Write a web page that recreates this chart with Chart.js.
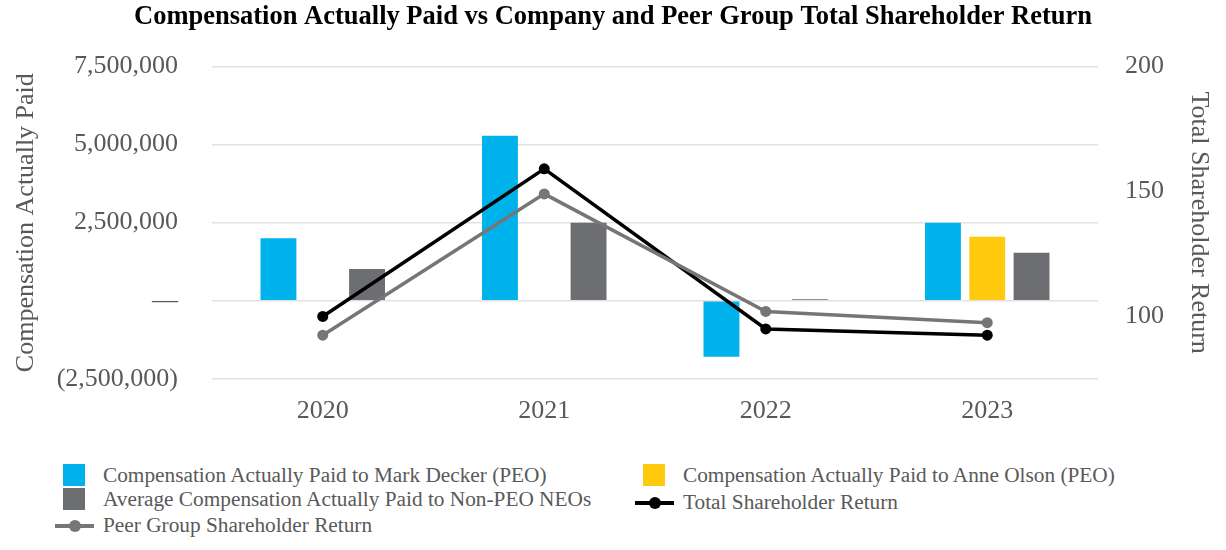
<!DOCTYPE html>
<html>
<head>
<meta charset="utf-8">
<script src="https://cdn.jsdelivr.net/npm/chart.js@4.4.1/dist/chart.umd.min.js"></script>
<style>
  html, body { margin: 0; padding: 0; background: #ffffff; }
  #wrap { position: relative; width: 1226px; height: 550px; overflow: hidden; }
  #chartBox { position: absolute; left: 0; top: 0; width: 1226px; height: 440px; }
  .lg { position: absolute; font-family: "Liberation Serif", "Times New Roman", serif; font-size: 21.3px; color: #595959; white-space: nowrap; line-height: 24px; height: 24px; }
  .sw { position: absolute; }
</style>
</head>
<body>
<div id="wrap">
  <div id="chartBox"><canvas id="c" width="1226" height="440"></canvas></div>
  <div id="legend"></div>
</div>
<script>
const categories = ["2020", "2021", "2022", "2023"];
const capMarkDecker = [2000000, 5280000, -1790000, 2500000];
const capAnneOlson = [null, null, null, 2050000];
const capNonPeoAvg = [1020000, 2500000, 50000, 1540000];
const totalShareholderReturn = [100, 159, 95, 92.5];
const peerGroupReturn = [92.5, 149, 102, 97.5];
const leftTicks = [-2500000, 0, 2500000, 5000000, 7500000];
const rightTicks = [100, 150, 200];

const TEXT = "#595959";
const SERIF = "'Liberation Serif', 'Times New Roman', serif";

function fmtNum(v) {
  return Math.round(v).toString().replace(/\B(?=(\d{3})+(?!\d))/g, ",");
}

const datasets = [
  { type: "bar", label: "Compensation Actually Paid to Mark Decker (PEO)", data: capMarkDecker,
    backgroundColor: "#00B2EC", yAxisID: "y", order: 2 },
  { type: "bar", label: "Compensation Actually Paid to Anne Olson (PEO)", data: capAnneOlson,
    backgroundColor: "#FFC90E", yAxisID: "y", order: 2 },
  { type: "bar", label: "Average Compensation Actually Paid to Non-PEO NEOs", data: capNonPeoAvg,
    backgroundColor: "#6D6E71", yAxisID: "y", order: 2 },
  { type: "line", label: "Total Shareholder Return", data: totalShareholderReturn,
    borderColor: "#000000", backgroundColor: "#000000", borderWidth: 3.5,
    pointRadius: 5.5, pointHoverRadius: 5.5, pointBackgroundColor: "#000000", pointBorderWidth: 0,
    yAxisID: "y1", order: 1, tension: 0 },
  { type: "line", label: "Peer Group Shareholder Return", data: peerGroupReturn,
    borderColor: "#767676", backgroundColor: "#767676", borderWidth: 3.5,
    pointRadius: 5.5, pointHoverRadius: 5.5, pointBackgroundColor: "#767676", pointBorderWidth: 0,
    yAxisID: "y1", order: 0, tension: 0 }
];

const chart = new Chart(document.getElementById("c"), {
  data: { labels: categories, datasets: datasets },
  options: {
    responsive: false,
    animation: false,
    devicePixelRatio: 1,
    layout: { padding: 0 },
    datasets: { bar: { categoryPercentage: 0.6, barPercentage: 0.81 } },
    plugins: {
      legend: { display: false },
      tooltip: { enabled: false },
      title: {
        display: true,
        text: "Compensation Actually Paid vs Company and Peer Group Total Shareholder Return",
        color: "#000000",
        font: { family: SERIF, size: 26.5, weight: "bold" },
        padding: { top: 1, bottom: 33.5 }
      }
    },
    scales: {
      x: {
        grid: { display: false, drawTicks: false },
        border: { display: false },
        ticks: { color: TEXT, font: { family: SERIF, size: 26 }, padding: 17 },
        afterFit: (s) => { s.height = 61; }
      },
      y: {
        position: "left",
        min: -2500000, max: 7500000,
        afterBuildTicks: (s) => { s.ticks = leftTicks.map(v => ({ value: v })); },
        grid: { color: "#E2E2E2", lineWidth: 1.5, drawTicks: false },
        border: { display: false },
        ticks: {
          color: TEXT, font: { family: SERIF, size: 26 }, padding: 34,
          callback: (v) => v === 0 ? "\u2014" : (v < 0 ? "(" + fmtNum(-v) + ")" : fmtNum(v))
        },
        title: { display: true, text: "Compensation Actually Paid", color: TEXT,
          font: { family: SERIF, size: 26 }, padding: { top: 11, bottom: 0 } },
        afterFit: (s) => { s.width = 212; }
      },
      y1: {
        position: "right",
        min: 75, max: 200,
        afterBuildTicks: (s) => { s.ticks = rightTicks.map(v => ({ value: v })); },
        grid: { display: false, drawTicks: false },
        border: { display: false },
        ticks: { color: TEXT, font: { family: SERIF, size: 26 }, padding: 27 },
        title: { display: true, text: "Total Shareholder Return", color: TEXT,
          font: { family: SERIF, size: 26 }, padding: { top: 12, bottom: 0 } },
        afterFit: (s) => { s.width = 128; }
      }
    }
  }
});

// HTML legend built from the chart's datasets, laid out in two columns
const legendSlots = [
  { left: 63, top: 464 },   // Mark Decker
  { left: 643, top: 464 },  // Anne Olson
  { left: 63, top: 487.5 }, // Non-PEO
  { left: 635, top: 491 },  // TSR
  { left: 55, top: 513.5 }  // Peer
];
const legendEl = document.getElementById("legend");
chart.data.datasets.forEach((ds, i) => {
  const slot = legendSlots[i];
  if (ds.type === "bar") {
    const sw = document.createElement("div");
    sw.className = "sw";
    sw.style.cssText = `left:${slot.left}px;top:${slot.top}px;width:22px;height:22px;background:${ds.backgroundColor};`;
    legendEl.appendChild(sw);
    const t = document.createElement("div");
    t.className = "lg";
    t.textContent = ds.label;
    t.style.left = (slot.left + 40) + "px";
    t.style.top = (slot.top - 1) + "px";
    legendEl.appendChild(t);
  } else {
    const cy = slot.top + 12;
    const ln = document.createElement("div");
    ln.className = "sw";
    ln.style.cssText = `left:${slot.left}px;top:${cy - 2}px;width:39px;height:4px;background:${ds.borderColor};`;
    legendEl.appendChild(ln);
    const dot = document.createElement("div");
    dot.className = "sw";
    dot.style.cssText = `left:${slot.left + 14}px;top:${cy - 6}px;width:12px;height:12px;border-radius:6px;background:${ds.borderColor};`;
    legendEl.appendChild(dot);
    const t = document.createElement("div");
    t.className = "lg";
    t.textContent = ds.label;
    t.style.left = (slot.left + 48) + "px";
    t.style.top = (slot.top - 1) + "px";
    legendEl.appendChild(t);
  }
});
</script>
</body>
</html>
